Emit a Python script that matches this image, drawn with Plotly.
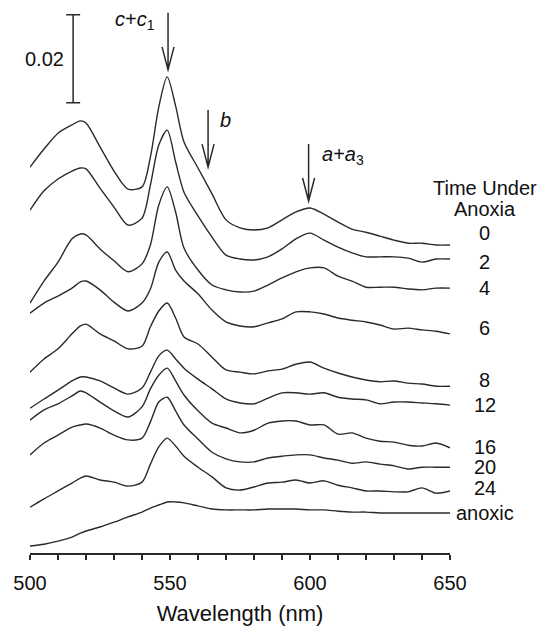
import plotly.graph_objects as go

# wavelength grid (nm)
wavelength = [500, 505, 510, 515, 518, 520, 525, 530, 535, 540, 543, 546, 549, 552, 555,
              560, 565, 570, 575, 580, 585, 590, 595, 600, 605, 610, 615, 620, 625, 630,
              635, 640, 645, 650]

# absorbance x 1e-3, traces already offset vertically as in the figure
abs_0h = [89.3, 93.4, 97.0, 98.9, 99.8, 99.3, 93.9, 88.4, 84.3, 84.8, 91.6, 103.0, 109.8, 103.2, 95.0,
          89.1, 83.2, 77.3, 75.5, 75.0, 75.5, 77.3, 79.1, 80.0, 78.6, 76.8, 75.2, 74.5, 73.6, 72.7,
          72.0, 72.0, 71.6, 71.6]
abs_2h = [79.5, 83.9, 86.6, 88.4, 89.1, 88.9, 84.5, 80.2, 76.1, 77.7, 85.2, 94.3, 97.7, 90.5, 83.6,
          78.2, 73.4, 69.3, 68.4, 68.2, 68.9, 70.7, 73.0, 74.3, 72.7, 71.1, 69.8, 68.9, 68.9, 68.9,
          68.6, 67.7, 68.4, 68.4]
abs_4h = [58.4, 63.4, 67.7, 73.0, 74.1, 73.9, 70.7, 68.0, 65.5, 67.3, 71.6, 80.7, 84.8, 79.1, 70.9,
          65.9, 62.5, 61.4, 60.9, 61.1, 62.5, 64.1, 65.5, 66.4, 66.4, 64.5, 63.4, 62.0, 62.0, 62.0,
          61.6, 61.4, 61.8, 61.8]
abs_6h = [56.1, 58.4, 60.0, 61.8, 63.2, 63.4, 61.4, 58.6, 56.6, 58.4, 61.6, 67.7, 70.0, 65.9, 63.4,
          60.5, 56.8, 54.1, 53.2, 53.0, 53.9, 54.8, 56.4, 56.4, 55.9, 55.0, 54.5, 54.1, 53.4, 52.5,
          52.7, 52.3, 52.0, 51.4]
abs_8h = [42.7, 45.7, 48.0, 51.4, 53.2, 53.6, 51.4, 49.8, 48.0, 48.6, 53.0, 56.6, 58.4, 55.0, 50.7,
          49.1, 46.1, 43.2, 42.7, 42.3, 43.0, 43.4, 44.5, 45.0, 43.6, 42.5, 41.6, 40.9, 40.5, 40.7,
          40.2, 40.0, 39.5, 39.5]
abs_12h = [34.5, 36.6, 38.6, 40.7, 41.6, 41.6, 40.7, 39.1, 37.7, 39.1, 42.7, 46.4, 47.7, 45.7, 43.6,
           41.1, 38.9, 36.6, 35.7, 35.5, 36.8, 38.0, 38.0, 37.7, 38.0, 37.0, 36.6, 36.4, 35.5, 35.9,
           35.9, 35.7, 35.5, 35.2]
abs_16h = [31.8, 34.1, 35.5, 37.3, 38.4, 38.0, 35.9, 33.9, 32.5, 34.8, 38.9, 42.0, 43.6, 40.7, 37.5,
           33.9, 31.1, 30.0, 28.9, 29.5, 31.1, 31.6, 31.6, 30.7, 30.7, 28.6, 28.9, 27.7, 27.0, 26.8,
           26.1, 25.9, 26.6, 25.5]
abs_20h = [23.9, 26.6, 28.4, 30.2, 30.7, 30.9, 30.0, 28.4, 27.3, 27.7, 31.4, 35.9, 37.0, 33.9, 30.7,
           27.5, 24.5, 23.0, 22.3, 22.3, 23.2, 23.6, 23.9, 23.9, 23.2, 22.7, 22.0, 22.3, 21.8, 21.4,
           20.7, 21.1, 21.1, 21.1]
abs_24h = [12.0, 13.9, 15.7, 17.5, 18.6, 19.1, 18.2, 17.7, 16.8, 17.7, 21.8, 25.7, 27.7, 25.9, 23.6,
           21.1, 18.9, 16.4, 15.9, 16.6, 17.5, 17.7, 18.2, 17.5, 18.0, 17.0, 16.4, 15.7, 15.7, 15.5,
           15.5, 16.4, 15.2, 15.7]
abs_anoxic = [3.2, 3.6, 4.3, 5.2, 6.1, 6.6, 7.5, 8.6, 9.8, 10.9, 11.8, 12.5, 13.2, 13.2, 13.0,
              12.3, 11.6, 11.4, 11.4, 11.4, 11.6, 11.6, 11.6, 11.4, 11.4, 11.1, 10.9, 10.9, 10.7, 10.7,
              10.7, 10.7, 10.7, 10.7]

time_labels = ["0", "2", "4", "6", "8", "12", "16", "20", "24", "anoxic"]
label_shift = [12, -3, 0, 6, 6, 0, 1, 0, 3, 0]

# scale bar: 0.02 absorbance
scale_x = 515.4
scale_bottom = 103.9
scale_len = 20

# peak markers: wavelength and arrow tip height
peak_wl = [549.3, 563.6, 599.5]
peak_tip = [111.4, 89.3, 81.6]

FONT = "Liberation Sans, Arial, Helvetica, sans-serif"
INK = "#2a2a2a"
TXT = "#111"

traces = [abs_0h, abs_2h, abs_4h, abs_6h, abs_8h, abs_12h, abs_16h, abs_20h, abs_24h, abs_anoxic]

fig = go.Figure()
for vals, name in zip(traces, time_labels):
    fig.add_trace(go.Scatter(x=wavelength, y=vals, mode="lines", name=name,
                             line=dict(color=INK, width=1.4, shape="spline", smoothing=0.8),
                             hoverinfo="skip"))

# right-hand labels
for vals, name, sh in zip(traces, time_labels, label_shift):
    fig.add_annotation(x=1.083, xref="paper", y=vals[-1], yref="y", text=name,
                       showarrow=False, xanchor="center", yanchor="middle", yshift=sh,
                       font=dict(size=20, family=FONT, color=TXT))
fig.add_annotation(x=1.083, xref="paper", y=84.5, yref="y", text="Time Under",
                   showarrow=False, xanchor="center", yanchor="middle",
                   font=dict(size=20, family=FONT, color=TXT))
fig.add_annotation(x=1.083, xref="paper", y=79.8, yref="y", text="Anoxia",
                   showarrow=False, xanchor="center", yanchor="middle",
                   font=dict(size=20, family=FONT, color=TXT))

# scale bar
fig.add_shape(type="path", xref="x", yref="y", xsizemode="pixel", xanchor=scale_x,
              path=f"M0,{scale_bottom} L0,{scale_bottom + scale_len} "
                   f"M-7,{scale_bottom} L7,{scale_bottom} "
                   f"M-7,{scale_bottom + scale_len} L7,{scale_bottom + scale_len}",
              line=dict(color=INK, width=1.5))
fig.add_annotation(x=512.9, y=scale_bottom + scale_len / 2, text="0.02", showarrow=False,
                   xanchor="right", yanchor="middle", font=dict(size=20, family=FONT, color=TXT))

# peak arrows (open V heads)
for wl, tip in zip(peak_wl, peak_tip):
    fig.add_shape(type="path", xref="x", yref="y", xsizemode="pixel", ysizemode="pixel",
                  xanchor=wl, yanchor=tip,
                  path="M0,0 L0,57 M-6,23 L0,0 L6,23",
                  line=dict(color=INK, width=1.5))

fig.add_annotation(x=545.4, y=122.5, text="<i>c</i>+<i>c</i><sub>1</sub>", showarrow=False,
                   xanchor="right", yanchor="middle", font=dict(size=20, family=FONT, color=TXT))
fig.add_annotation(x=567.1, y=100.0, text="<i>b</i>", showarrow=False,
                   xanchor="left", yanchor="middle", font=dict(size=20, family=FONT, color=TXT))
fig.add_annotation(x=603.6, y=92.0, text="<i>a</i>+<i>a</i><sub>3</sub>", showarrow=False,
                   xanchor="left", yanchor="middle", font=dict(size=20, family=FONT, color=TXT))

# page body adds an 8 px margin, so the figure is sized to fit inside the window
fig.update_layout(
    width=541, height=618,
    margin=dict(l=22, r=99, t=0, b=73),
    paper_bgcolor="white", plot_bgcolor="white",
    showlegend=False,
    font=dict(family=FONT, size=20, color=TXT),
)
fig.update_xaxes(range=[500, 650], showgrid=False, zeroline=False,
                 showline=True, linecolor=INK, linewidth=2,
                 ticks="outside", ticklen=5, tickwidth=1.5, tickcolor=INK,
                 tickvals=[500, 550, 600, 650], ticklabelstandoff=6,
                 minor=dict(dtick=10, ticks="outside", ticklen=5, tickwidth=1.5, tickcolor=INK),
                 tickfont=dict(size=20, family=FONT, color=TXT),
                 title=dict(text="Wavelength (nm)", font=dict(size=22, family=FONT, color=TXT),
                            standoff=15))
fig.update_yaxes(range=[1.6, 125.45], visible=False)

fig.write_html("out.html")
